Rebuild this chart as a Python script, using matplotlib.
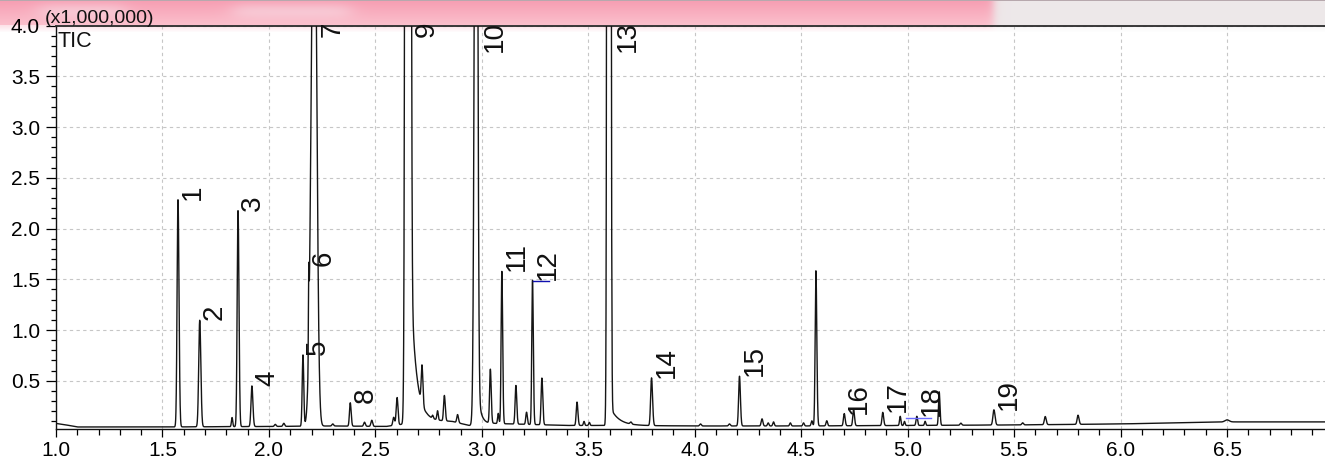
import numpy as np
import matplotlib
matplotlib.use("Agg")
import matplotlib.pyplot as plt
from matplotlib.ticker import MultipleLocator, FormatStrFormatter

plt.rcParams["font.family"] = ["Liberation Sans", "DejaVu Sans"]

# ---- chromatogram data (retention time in min, intensity in x1,000,000) ----
peak_rt = [1.573, 1.675, 1.827, 1.855, 1.920, 2.030, 2.070, 2.160, 2.187, 2.213,
           2.300, 2.382, 2.449, 2.483, 2.586, 2.602, 2.653, 2.719, 2.769, 2.792,
           2.824, 2.886, 2.9735, 3.040, 3.077, 3.094, 3.160, 3.210, 3.238, 3.282,
           3.447, 3.480, 3.505, 3.597, 3.700, 3.797, 4.027, 4.163, 4.210, 4.316,
           4.345, 4.370, 4.449, 4.511, 4.550, 4.569, 4.620, 4.702, 4.746, 4.883,
           4.965, 4.985, 5.043, 5.082, 5.148, 5.250, 5.405, 5.540, 5.646, 5.800,
           6.500]
peak_height = [2.24, 1.05, 0.09, 2.13, 0.40, 0.02, 0.03, 0.70, 0.70, 6.0,
               0.02, 0.23, 0.04, 0.06, 0.08, 0.27, 100.0, 0.38, 0.03, 0.09,
               0.25, 0.08, 10.0, 0.53, 0.10, 1.50, 0.38, 0.12, 1.42, 0.46,
               0.23, 0.04, 0.03, 100.0, 0.02, 0.47, 0.02, 0.02, 0.49, 0.07,
               0.03, 0.04, 0.03, 0.03, 0.05, 1.53, 0.05, 0.12, 0.16, 0.13,
               0.09, 0.04, 0.09, 0.04, 0.33, 0.02, 0.15, 0.02, 0.08, 0.09,
               0.02]
peak_sigma_left = [0.0042, 0.0047, 0.0030, 0.0040, 0.0042, 0.0040, 0.0040, 0.0036, 0.0015, 0.0133,
                   0.0040, 0.0037, 0.0040, 0.0040, 0.0040, 0.0042, 0.0065, 0.0037, 0.0030, 0.0032,
                   0.0037, 0.0037, 0.0071, 0.0036, 0.0030, 0.0034, 0.0037, 0.0036, 0.0034, 0.0037,
                   0.0037, 0.0030, 0.0030, 0.0046, 0.0040, 0.0042, 0.0040, 0.0040, 0.0040, 0.0040,
                   0.0035, 0.0035, 0.0035, 0.0035, 0.0035, 0.0036, 0.0035, 0.0037, 0.0037, 0.0037,
                   0.0032, 0.0030, 0.0036, 0.0030, 0.0032, 0.0040, 0.0046, 0.0040, 0.0042, 0.0042,
                   0.0100]
peak_sigma_right = [0.0047, 0.0052, 0.0030, 0.0044, 0.0047, 0.0040, 0.0040, 0.0036, 0.0015, 0.0110,
                    0.0040, 0.0042, 0.0040, 0.0040, 0.0040, 0.0042, 0.0065, 0.0042, 0.0030, 0.0032,
                    0.0042, 0.0042, 0.0060, 0.0040, 0.0030, 0.0038, 0.0040, 0.0036, 0.0038, 0.0042,
                    0.0042, 0.0030, 0.0030, 0.0046, 0.0040, 0.0047, 0.0040, 0.0040, 0.0044, 0.0040,
                    0.0035, 0.0035, 0.0035, 0.0035, 0.0035, 0.0042, 0.0035, 0.0042, 0.0042, 0.0042,
                    0.0032, 0.0030, 0.0036, 0.0030, 0.0037, 0.0040, 0.0052, 0.0040, 0.0047, 0.0047,
                    0.0100]

# slow exponential tails behind the overloaded peaks
tail_start = [2.665, 2.980, 3.610]
tail_height = [1.50, 0.35, 0.15]
tail_decay = [0.025, 0.015, 0.040]

# detector baseline
baseline_rt = [1.00, 1.04, 1.10, 1.50, 2.00, 2.30, 2.55, 2.62, 2.74, 2.86, 2.94,
               3.05, 3.40, 3.60, 4.00, 4.50, 5.00, 5.50, 6.00, 6.50, 6.96]
baseline_level = [0.080, 0.068, 0.045, 0.045, 0.050, 0.055, 0.050, 0.070, 0.110, 0.100, 0.060,
                  0.080, 0.060, 0.060, 0.055, 0.055, 0.060, 0.065, 0.075, 0.095, 0.095]

# numbered peaks: label and retention time of the peak it names
label_text = ["1", "2", "3", "4", "5", "6", "7", "8", "9", "10",
              "11", "12", "13", "14", "15", "16", "17", "18", "19"]
label_rt = [1.573, 1.675, 1.855, 1.920, 2.160, 2.187, 2.213, 2.382, 2.653, 2.9735,
            3.094, 3.238, 3.597, 3.797, 4.210, 4.702, 4.883, 5.043, 5.405]

# integration marks
mark_start = [3.238, 4.990]
mark_end = [3.316, 5.110]
mark_level = [1.48, 0.13]

# ---- build the trace ----
t = np.arange(1.0, 6.9601, 0.0004)
signal = np.interp(t, baseline_rt, baseline_level)
for rt, h, sl, sr in zip(peak_rt, peak_height, peak_sigma_left, peak_sigma_right):
    s = np.where(t < rt, sl, sr)
    signal = signal + h * np.exp(-0.5 * ((t - rt) / s) ** 2)
for t0, h, tau in zip(tail_start, tail_height, tail_decay):
    signal = signal + np.where(t >= t0, h * np.exp(-(t - t0) / tau), 0.0)

W, H = 1325, 459
fig = plt.figure(figsize=(W / 100, H / 100), dpi=100)
fig.patch.set_facecolor("white")

# window title strip across the top edge
NB = 33
band = fig.add_axes([0, 1 - NB / H, 1, NB / H], zorder=-1)
band.set_axis_off()
rows = np.linspace(0, 1, NB)[:, None]
cols = np.arange(W)
pink_top = np.array([0.965, 0.62, 0.70])
pink_bot = np.array([0.985, 0.75, 0.80])
grey = np.array([0.93, 0.91, 0.915])
frac = np.clip(rows / (25 / NB), 0, 1)[..., None]
rgb = pink_top[None, None, :] * (1 - frac) + pink_bot[None, None, :] * frac
rgb = np.broadcast_to(rgb, (NB, W, 3)).copy()
# soft transition into the grey right-hand part
wgrey = 1 / (1 + np.exp(-(cols - 993) / 2.5))
rgb = rgb * (1 - wgrey[None, :, None]) + grey[None, None, :] * wgrey[None, :, None]
# soft light patches
light = np.array([0.97, 0.88, 0.91])
for x0, x1 in [(38, 125), (233, 350)]:
    wx = 1 / (1 + np.exp(-(cols - x0) / 6)) * 1 / (1 + np.exp((cols - x1) / 6))
    wy = np.exp(-0.5 * ((np.arange(NB) - 11) / 6.0) ** 2) * (np.arange(NB) < 25)
    w = 0.5 * wy[:, None] * wx[None, :]
    rgb = rgb * (1 - w[..., None]) + light[None, None, :] * w[..., None]
img = np.ones((NB, W, 4))
img[..., :3] = rgb
alpha = np.ones((NB, W))
alpha[25:, :] = np.linspace(0.45, 0.0, NB - 25)[:, None]
img[..., 3] = alpha
img[0, :, :3] = [0.72, 0.66, 0.68]
band.imshow(img, aspect="auto", extent=[0, 1, 0, 1], interpolation="bilinear")
band.set_xlim(0, 1)
band.set_ylim(0, 1)

ax = fig.add_axes([56 / W, 1 - 428.5 / H, 1 - 56 / W, (428.5 - 25.5) / H])
ax.set_facecolor("none")
ax.plot(t, signal, color="#151515", lw=1.0, zorder=3)

for x0, x1, y in zip(mark_start, mark_end, mark_level):
    col = "#1010b0" if y > 1 else "#6a6aff"
    ax.plot([x0, x1], [y, y], color=col, lw=1.0, zorder=4)

ax.set_xlim(1.0, 6.96)
ax.set_ylim(0.03, 4.0)

ax.xaxis.set_major_locator(MultipleLocator(0.5))
ax.xaxis.set_minor_locator(MultipleLocator(0.1))
ax.yaxis.set_major_locator(MultipleLocator(0.5))
ax.yaxis.set_minor_locator(MultipleLocator(0.1))
ax.xaxis.set_major_formatter(FormatStrFormatter("%.1f"))
ax.yaxis.set_major_formatter(FormatStrFormatter("%.1f"))
ax.tick_params(axis="x", which="major", direction="out", length=6, width=0.9, labelsize=15, pad=3)
ax.tick_params(axis="x", which="minor", direction="out", length=4, width=0.9)
ax.tick_params(axis="y", which="major", direction="out", length=7.5, width=0.9, labelsize=15, pad=4)
ax.tick_params(axis="y", which="minor", direction="out", length=3.6, width=0.9)

ax.grid(True, which="major", color="#c6c6c6", linestyle=(0, (3, 3)), linewidth=0.8, zorder=0)
ax.set_axisbelow(True)
ax.spines["right"].set_visible(False)
for side in ("left", "bottom"):
    ax.spines[side].set_color("#111111")
    ax.spines[side].set_linewidth(1.0)
ax.spines["top"].set_color("#2a2a2a")
ax.spines["top"].set_linewidth(1.3)

# peak numbers
ymax = ax.get_ylim()[1]
for txt, rt in zip(label_text, label_rt):
    level = float(np.interp(rt, t, signal))
    if level >= ymax:
        ax.annotate(txt, (rt, ymax), xytext=(4, 3), textcoords="offset points",
                    rotation=90, ha="left", va="top", fontsize=20, color="#111111",
                    annotation_clip=False, zorder=5)
    else:
        ax.annotate(txt, (rt, level), xytext=(1.5, 0), textcoords="offset points",
                    rotation=90, ha="left", va="bottom", fontsize=20, color="#111111",
                    zorder=5)

fig.text(45 / W, 1 - 27 / H, "(x1,000,000)", fontsize=14, color="#111111", va="bottom", ha="left")
fig.text(57 / W, 1 - 47 / H, "TIC", fontsize=15.5, color="#111111", va="baseline", ha="left")

fig.savefig("out.png", dpi=100, facecolor="white")
